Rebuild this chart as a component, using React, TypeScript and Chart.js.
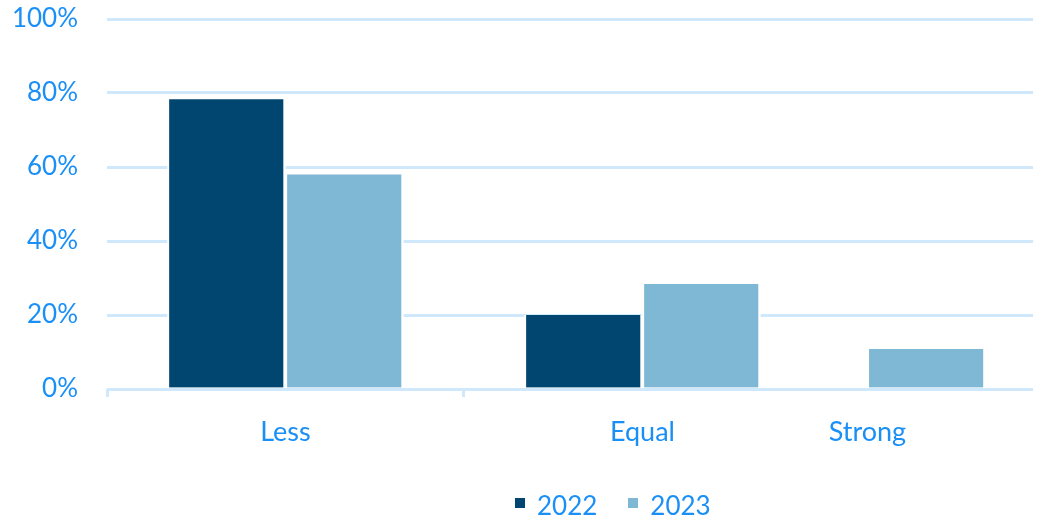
import React, { useEffect, useRef } from 'react';
import { Chart, registerables } from 'chart.js';

Chart.register(...registerables);

// ---- data ----
const categories = ['Less', 'Equal', 'Strong'];
// value of each category on the (linear) category axis, as laid out in the source chart
const categoryAxisValues = [0, 1, 1.63];
const years = ['2022', '2023'];
const values2022 = [78.3, 20, 0];
const values2023 = [58, 28.4, 10.8];
const yTickValues = [0, 20, 40, 60, 80, 100];

// ---- styles ----
const FONT = 'Lato, "Open Sans", sans-serif';
const TEXT = '#1a8ff5';
const GRID = '#cfe8fb';
const COLORS = ['#004670', '#7fb8d4'];
const X_MIN = -0.5;
const X_MAX = 2.094;

export default function App() {
  const ref = useRef<HTMLCanvasElement>(null);

  useEffect(() => {
    const series = [values2022, values2023];
    const chart = new Chart(ref.current as HTMLCanvasElement, {
      type: 'bar',
      data: {
        datasets: years.map((yr, i) => ({
          label: yr,
          data: categories.map((_, j) => ({ x: categoryAxisValues[j], y: series[i][j] })),
          backgroundColor: COLORS[i],
          borderColor: '#ffffff',
          borderWidth: { left: 2, right: 2.5, top: 0, bottom: 0 },
          borderSkipped: false,
          barThickness: 118,
          xAxisID: 'x',
          yAxisID: 'y',
        })),
      },
      options: {
        animation: false,
        responsive: false,
        layout: { padding: { top: 19, right: 7, bottom: 64, left: 0 } },
        plugins: {
          legend: { display: false },
          tooltip: { enabled: false },
        },
        scales: {
          x: {
            type: 'linear',
            position: 'bottom',
            bounds: 'data',
            offset: false,
            weight: 1,
            min: X_MIN,
            max: X_MAX,
            grid: { display: false, offset: false },
            border: { display: false },
            afterBuildTicks: (s: any) => {
              s.ticks = categoryAxisValues.map((v) => ({ value: v }));
              s.min = X_MIN;
              s.max = X_MAX;
            },
            afterFit: (s: any) => {
              s.height = 60;
              s.paddingLeft = 0;
              s.paddingRight = 0;
            },
            ticks: {
              autoSkip: false,
              maxRotation: 0,
              minRotation: 0,
              padding: 11,
              color: TEXT,
              font: { family: FONT, size: 27 },
              callback: (_v: any, i: number) => categories[i],
            },
          },
          xMarks: {
            type: 'linear',
            position: 'bottom',
            bounds: 'data',
            offset: false,
            weight: 0,
            min: X_MIN,
            max: X_MAX,
            afterBuildTicks: (s: any) => {
              s.ticks = [{ value: X_MIN }, { value: X_MIN + 1 }];
              s.min = X_MIN;
              s.max = X_MAX;
            },
            afterFit: (s: any) => {
              s.height = 8;
              s.paddingLeft = 0;
              s.paddingRight = 0;
            },
            grid: {
              display: true,
              offset: false,
              drawOnChartArea: false,
              drawTicks: true,
              tickLength: 8,
              color: GRID,
              lineWidth: 3,
            },
            border: { display: false },
            ticks: { display: false },
          },
          y: {
            min: 0,
            max: 100,
            afterBuildTicks: (s: any) => {
              s.ticks = yTickValues.map((v) => ({ value: v }));
            },
            afterFit: (s: any) => {
              s.width = 107;
              s.paddingTop = 0;
              s.paddingBottom = 0;
            },
            grid: { color: GRID, lineWidth: 3, drawTicks: false },
            border: { display: false },
            ticks: {
              padding: 29,
              color: TEXT,
              font: { family: FONT, size: 26 },
              callback: (v: any) => v + '%',
            },
          },
        },
      },
    } as any);
    return () => chart.destroy();
  }, []);

  return (
    <div
      style={{
        position: 'fixed',
        left: 0,
        top: 0,
        width: 1040,
        height: 521,
        background: '#ffffff',
        overflow: 'hidden',
      }}
    >
      <canvas
        ref={ref}
        width={1040}
        height={521}
        style={{ position: 'absolute', left: 0, top: 0, width: 1040, height: 521 }}
      />
      <div
        style={{
          position: 'absolute',
          left: 515,
          top: 490,
          height: 30,
          display: 'flex',
          alignItems: 'center',
          fontFamily: FONT,
          fontSize: 26,
          lineHeight: '30px',
          color: TEXT,
          whiteSpace: 'nowrap',
        }}
      >
        {years.map((yr, i) => (
          <div
            key={yr}
            style={{ display: 'flex', alignItems: 'center', marginLeft: i === 0 ? 0 : 31 }}
          >
            <span
              style={{
                display: 'inline-block',
                width: 10,
                height: 10,
                background: COLORS[i],
                marginRight: 12,
                position: 'relative',
                top: -2,
              }}
            />
            <span>{yr}</span>
          </div>
        ))}
      </div>
    </div>
  );
}
